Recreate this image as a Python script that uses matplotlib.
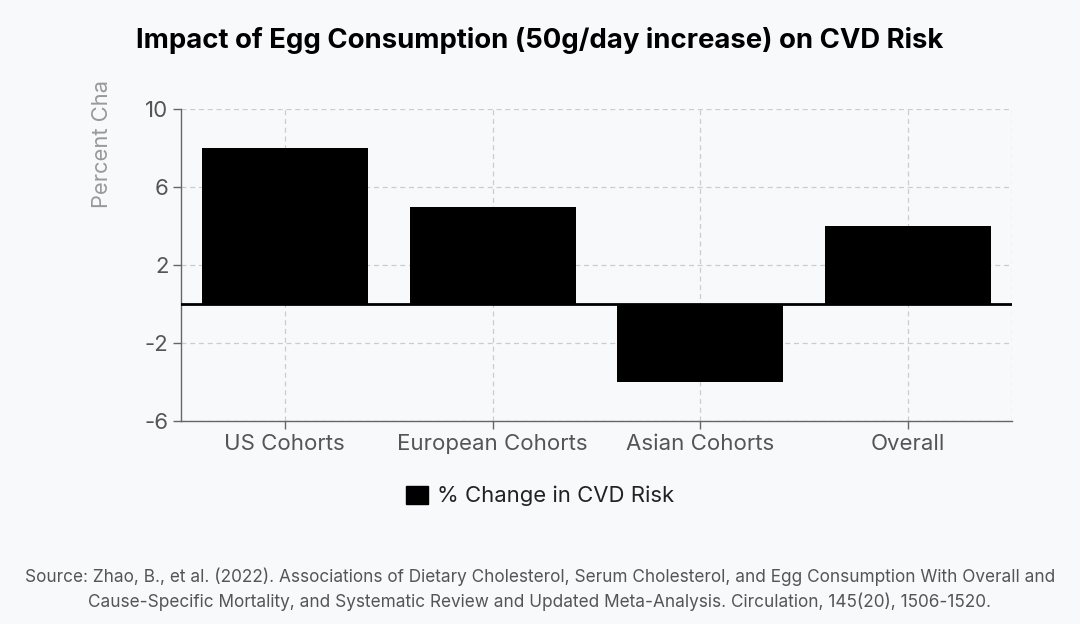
import matplotlib
matplotlib.use("Agg")
import matplotlib.pyplot as plt
from matplotlib.patches import Patch

plt.rcParams['font.family'] = ['Inter', 'DejaVu Sans']

categories = ["US Cohorts", "European Cohorts", "Asian Cohorts", "Overall"]
values = [8, 5, -4, 4]
series_name = "% Change in CVD Risk"
yticks = [-6, -2, 2, 6, 10]
title = "Impact of Egg Consumption (50g/day increase) on CVD Risk"
ylabel = "Percent Cha"
source = ("Source: Zhao, B., et al. (2022). Associations of Dietary Cholesterol, Serum Cholesterol, and Egg Consumption With Overall and\n"
          "Cause-Specific Mortality, and Systematic Review and Updated Meta-Analysis. Circulation, 145(20), 1506-1520.")

bg = "#f8f9fb"
fig = plt.figure(figsize=(10.8, 6.24), dpi=100, facecolor=bg)
ax = fig.add_axes([181/1080, 1-421/624, (1012-181)/1080, (421-109)/624])
ax.set_facecolor(bg)

x = list(range(len(categories)))
ax.bar(x, values, width=0.8, color="black", zorder=3)
ax.set_xlim(-0.5, len(categories) - 0.5)
ax.set_ylim(-6, 10)
ax.set_yticks(yticks)
ax.set_yticklabels([str(t) for t in yticks])
ax.set_xticks(x)
ax.set_xticklabels(categories)
ax.axhline(0, color="black", lw=2, zorder=4)

ax.grid(True, color="#cccccc", linestyle=(0, (4, 3)), lw=0.9, zorder=0)
ax.axvline(len(categories) - 0.5, color="#cccccc", linestyle=(0, (4, 3)), lw=0.9, zorder=0)
for s in ["top", "right"]:
    ax.spines[s].set_visible(False)
for s in ["left", "bottom"]:
    ax.spines[s].set_color("#666666")
    ax.spines[s].set_linewidth(1)
ax.tick_params(axis="both", colors="#666666", labelcolor="#555555", labelsize=16, length=6, width=1)
ax.tick_params(axis="x", pad=3)
ax.tick_params(axis="y", pad=3)

fig.text(102/1080, 1-144/624, ylabel, rotation=90, ha="center", va="center",
         fontsize=15.8, color="#999999")

fig.text(0.5, 1-40/624, title, ha="center", va="center", fontsize=19.8,
         fontweight="bold", color="black")

fig.legend(handles=[Patch(facecolor="black", edgecolor="black")], labels=[series_name],
           loc="center", bbox_to_anchor=(0.5, 1-496/624), frameon=False,
           fontsize=15.9, handlelength=1.0, handleheight=0.9, handletextpad=0.4,
           labelcolor="#222222")

fig.text(0.5, 1-589/624, source, ha="center", va="center", fontsize=12.4,
         color="#555555", linespacing=1.45)

fig.savefig("out.png", dpi=100, facecolor=bg)
